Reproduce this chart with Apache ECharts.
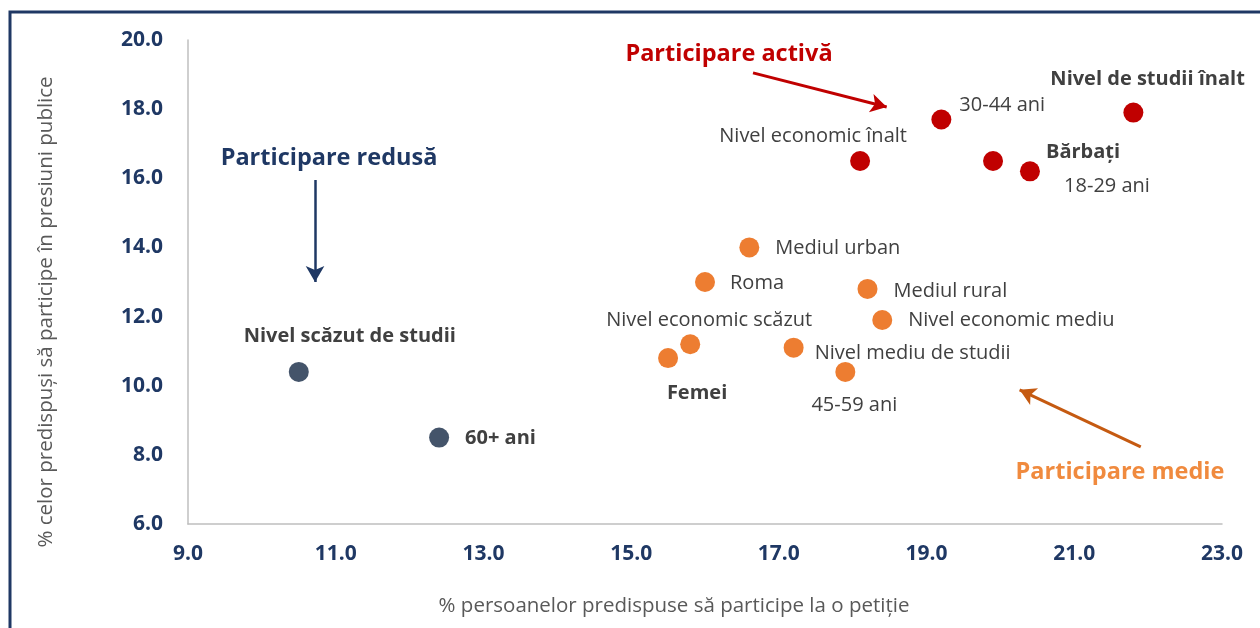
<!DOCTYPE html>
<html>
<head>
<meta charset="utf-8">
<script src="https://cdn.jsdelivr.net/npm/echarts@6/dist/echarts.min.js"></script>
<style>
  html, body { margin: 0; padding: 0; background: #fff; }
  #chart { width: 1260px; height: 628px; }
</style>
</head>
<body>
<div id="chart"></div>
<script>
// data
var names = ['Nivel scăzut de studii', '60+ ani',
  'Femei', 'Nivel economic scăzut', 'Roma', 'Mediul urban', 'Nivel mediu de studii',
  '45-59 ani', 'Mediul rural', 'Nivel economic mediu',
  'Nivel economic înalt', '30-44 ani', 'Bărbați', '18-29 ani', 'Nivel de studii înalt'];
var petitie = [10.5, 12.4, 15.5, 15.8, 16.0, 16.6, 17.2, 17.9, 18.2, 18.4, 18.1, 19.2, 19.9, 20.4, 21.8];
var presiuni = [10.4, 8.5, 10.8, 11.2, 13.0, 14.0, 11.1, 10.4, 12.8, 11.9, 16.5, 17.7, 16.5, 16.2, 17.9];
var grup = ['redusa', 'redusa', 'medie', 'medie', 'medie', 'medie', 'medie', 'medie', 'medie', 'medie',
  'activa', 'activa', 'activa', 'activa', 'activa'];
var boldNames = ['Nivel scăzut de studii', '60+ ani', 'Femei', 'Bărbați', 'Nivel de studii înalt'];

var culori = { redusa: '#44546A', medie: '#ED7D31', activa: '#C00000' };

// label placement: [dx, dy, align]
var labelPos = {
  'Nivel scăzut de studii': [51, -36, 'center'],
  '60+ ani': [26, 1, 'left'],
  'Femei': [29, 35, 'center'],
  'Nivel economic scăzut': [19, -24, 'center'],
  'Roma': [25, 1, 'left'],
  'Mediul urban': [26, 1, 'left'],
  'Nivel mediu de studii': [21, 6, 'left'],
  '45-59 ani': [9, 33, 'center'],
  'Mediul rural': [26, 2, 'left'],
  'Nivel economic mediu': [26, 0, 'left'],
  'Nivel economic înalt': [-47, -25, 'center'],
  '30-44 ani': [18, -14, 'left'],
  'Bărbați': [90, -9, 'center'],
  '18-29 ani': [77, 15, 'center'],
  'Nivel de studii înalt': [-83, -33, 'left']
};

var chart = echarts.init(document.getElementById('chart'));

var points = names.map(function (n, i) {
  var p = labelPos[n];
  return {
    name: n,
    value: [petitie[i], presiuni[i]],
    itemStyle: { color: culori[grup[i]], opacity: 1 },
    label: {
      show: true,
      formatter: n,
      position: 'inside',
      offset: [p[0], p[1]],
      align: p[2],
      verticalAlign: 'middle',
      fontWeight: boldNames.indexOf(n) >= 0 ? 'bold' : 'normal'
    }
  };
});

var fontFam = '"Open Sans", sans-serif';

var option = {
  backgroundColor: '#fff',
  animation: false,
  grid: { left: 188, right: 38, top: 40, bottom: 104 },
  xAxis: {
    type: 'value', min: 9, max: 23, interval: 2,
    name: '% persoanelor predispuse să participe la o petiție',
    nameLocation: 'middle', nameGap: 72,
    nameTextStyle: { color: '#595959', fontSize: 20.5, fontFamily: fontFam, padding: [0, 62, 0, 0] },
    axisLine: { show: true, lineStyle: { color: '#BFBFBF', width: 1.5 } },
    axisTick: { show: false },
    splitLine: { show: false },
    axisLabel: {
      color: '#1F3864', fontWeight: 'bold', fontSize: 21, fontFamily: fontFam, margin: 20,
      formatter: function (v) { return v.toFixed(1); }
    }
  },
  yAxis: {
    type: 'value', min: 6, max: 20, interval: 2,
    name: '% celor predispuși să participe în presiuni publice',
    nameLocation: 'middle', nameGap: 131,
    nameTextStyle: { color: '#595959', fontSize: 20.5, fontFamily: fontFam, padding: [0, 60, 0, 0] },
    axisLine: { show: true, lineStyle: { color: '#BFBFBF', width: 1.5 } },
    axisTick: { show: false },
    splitLine: { show: false },
    axisLabel: {
      color: '#1F3864', fontWeight: 'bold', fontSize: 21, fontFamily: fontFam, margin: 25,
      formatter: function (v) { return v.toFixed(1); }
    }
  },
  series: [{
    type: 'scatter',
    symbolSize: 20,
    label: { color: '#404040', fontSize: 20, fontFamily: fontFam },
    data: points,
    markLine: {
      silent: true,
      symbol: ['none', 'arrow'],
      symbolSize: [14, 16],
      label: { show: false },
      data: [
        [{ coord: [16.65, 19.05], lineStyle: { color: '#C00000', width: 3, type: 'solid' } }, { coord: [18.46, 18.06] }],
        [{ coord: [21.9, 8.23], lineStyle: { color: '#C55A11', width: 3, type: 'solid' } }, { coord: [20.26, 9.88] }],
        [{ coord: [10.72, 15.95], lineStyle: { color: '#1F3864', width: 2.5, type: 'solid' } }, { coord: [10.72, 13.0] }]
      ]
    }
  }],
  graphic: [
    {
      type: 'rect', silent: true, z: -1,
      shape: { x: 10, y: 12, width: 1300, height: 700 },
      style: { fill: 'none', stroke: '#1F3864', lineWidth: 3 }
    },
    {
      type: 'text', silent: true,
      style: { text: 'Participare activă', x: 729, y: 54, fill: '#C00000', font: 'bold 23.5px ' + fontFam, align: 'center', verticalAlign: 'middle' }
    },
    {
      type: 'text', silent: true,
      style: { text: 'Participare redusă', x: 329, y: 158, fill: '#1F3864', font: 'bold 23.5px ' + fontFam, align: 'center', verticalAlign: 'middle' }
    },
    {
      type: 'text', silent: true,
      style: { text: 'Participare medie', x: 1120, y: 472, fill: '#F08A3E', font: 'bold 23.5px ' + fontFam, align: 'center', verticalAlign: 'middle' }
    }
  ]
};

chart.setOption(option);
</script>
</body>
</html>
